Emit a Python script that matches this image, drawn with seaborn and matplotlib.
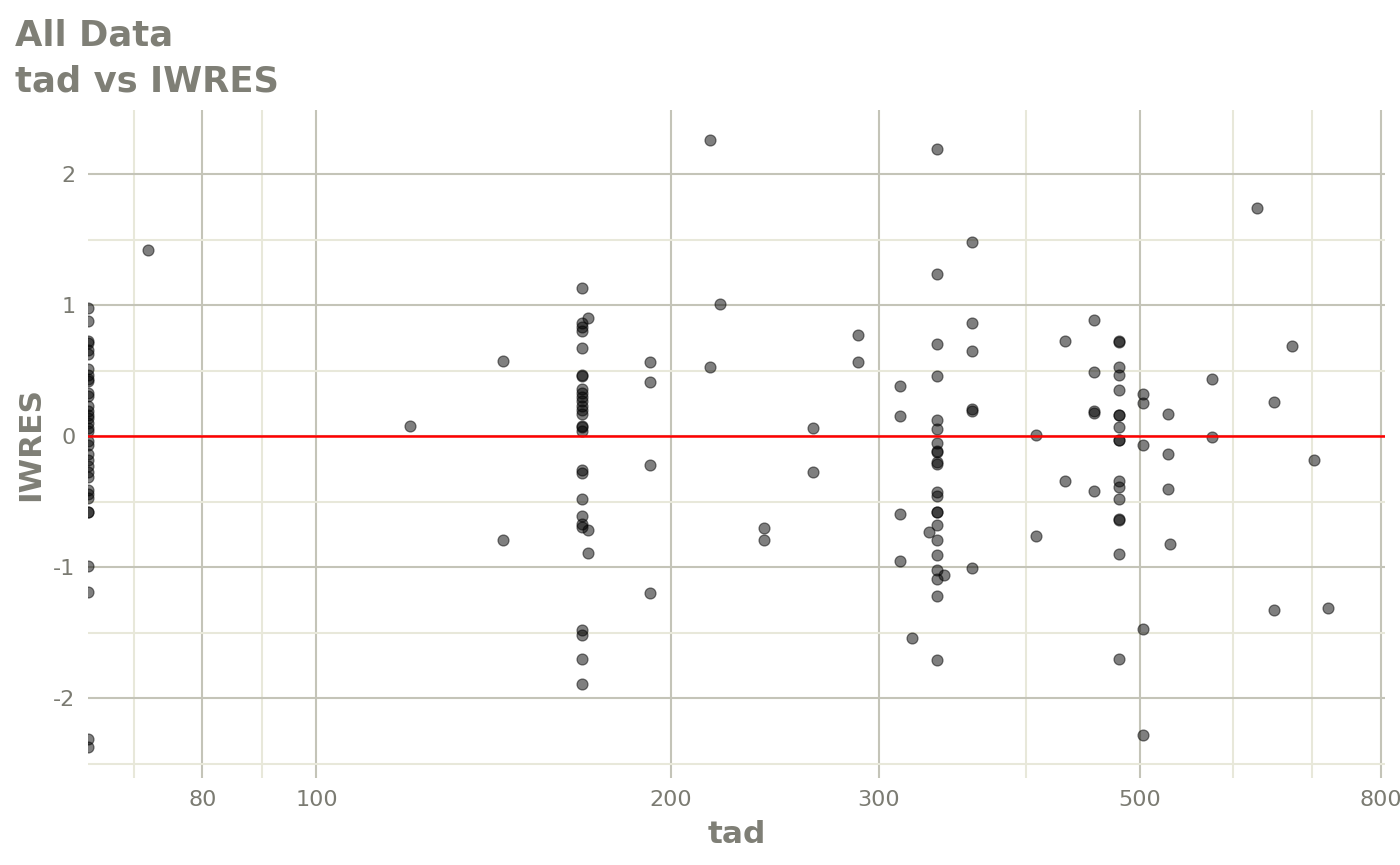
import matplotlib
matplotlib.use("Agg")
import matplotlib.pyplot as plt
import matplotlib.ticker as mticker
import seaborn as sns
import pandas as pd

# ---------------- data ----------------
tad_left = [64] * 35
iwres_left = [0.98, 0.88, 0.73, 0.71, 0.66, 0.63, 0.51, 0.47, 0.44, 0.42,
              0.33, 0.31, 0.23, 0.19, 0.16, 0.14, 0.10, 0.06, 0.04, -0.04,
              -0.07, -0.14, -0.18, -0.23, -0.27, -0.31, -0.41, -0.44, -0.47,
              -0.58, -0.58, -0.99, -1.19, -2.31, -2.37]

tad_168 = [168] * 27
iwres_168 = [1.13, 0.86, 0.83, 0.80, 0.67, 0.47, 0.46, 0.36, 0.33, 0.30,
             0.27, 0.23, 0.20, 0.17, 0.08, 0.07, 0.04, -0.26, -0.28, -0.48,
             -0.61, -0.67, -0.69, -1.48, -1.52, -1.70, -1.89]

tad_336 = [336] * 22
iwres_336 = [2.19, 1.24, 0.70, 0.46, 0.12, 0.055, -0.05, -0.11, -0.12,
             -0.20, -0.21, -0.43, -0.46, -0.58, -0.58, -0.68, -0.79, -0.91,
             -1.02, -1.09, -1.22, -1.71]

tad_480 = [480] * 17
iwres_480 = [0.73, 0.72, 0.53, 0.47, 0.35, 0.16, 0.16, 0.07, -0.03, -0.03,
             -0.34, -0.39, -0.48, -0.64, -0.63, -0.90, -1.70]

tad_other = [72, 120, 144, 144, 170, 170, 170, 192, 192, 192, 192, 216, 216,
             220, 240, 240, 264, 264, 288, 288, 313, 313, 313, 313, 320, 331,
             341, 360, 360, 360, 360, 360, 360, 408, 408, 432, 432, 457, 457,
             457, 457, 457, 503, 503, 503, 503, 503, 528, 528, 528, 530, 576,
             576, 628, 650, 650, 673, 702, 722]
iwres_other = [1.42, 0.076, 0.57, -0.79, 0.90, -0.72, -0.89, 0.565, 0.41,
               -0.22, -1.20, 2.26, 0.527, 1.01, -0.70, -0.79, 0.06, -0.27,
               0.77, 0.565, 0.385, 0.153, -0.596, -0.955, -1.54, -0.73, -1.06,
               1.48, 0.86, 0.65, 0.206, 0.19, -1.01, 0.008, -0.76, 0.725,
               -0.34, 0.89, 0.49, 0.19, 0.18, -0.42, 0.32, 0.255, -0.07,
               -1.47, -2.28, 0.17, -0.14, -0.40, -0.82, 0.44, -0.01, 1.74,
               0.26, -1.33, 0.69, -0.18, -1.31]

tad = tad_left + tad_168 + tad_336 + tad_480 + tad_other
iwres = iwres_left + iwres_168 + iwres_336 + iwres_480 + iwres_other

x_major = [80, 100, 200, 300, 500, 800]
x_minor = [70, 90, 400, 600, 700]
y_major = [-2, -1, 0, 1, 2]
y_minor = [-2.5, -1.5, -0.5, 0.5, 1.5]

df = pd.DataFrame({"tad": tad, "IWRES": iwres})

# ---------------- style ----------------
sns.set_style("white")
plt.rcParams["font.family"] = ["DejaVu Sans"]
plt.rcParams["axes.unicode_minus"] = False

title_col = "#7f7f76"
tick_col = "#7b7b72"
major_grid = "#c4c4b8"
minor_grid = "#e8e8da"

fig = plt.figure(figsize=(14, 8.65), dpi=100)
ax = fig.add_axes([88 / 1400, 1 - 778 / 865, (1385 - 88) / 1400, (778 - 110) / 865])

ax.set_xscale("log")
ax.set_xlim(64, 807)
ax.set_ylim(-2.61, 2.49)

ax.xaxis.set_major_locator(mticker.FixedLocator(x_major))
ax.xaxis.set_major_formatter(mticker.FixedFormatter([str(v) for v in x_major]))
ax.xaxis.set_minor_locator(mticker.FixedLocator(x_minor))
ax.xaxis.set_minor_formatter(mticker.NullFormatter())
ax.yaxis.set_major_locator(mticker.FixedLocator(y_major))
ax.yaxis.set_major_formatter(mticker.FixedFormatter([str(v) for v in y_major]))
ax.yaxis.set_minor_locator(mticker.FixedLocator(y_minor))
ax.yaxis.set_minor_formatter(mticker.NullFormatter())

ax.grid(which="major", color=major_grid, linewidth=1.5, zorder=0)
ax.grid(which="minor", color=minor_grid, linewidth=1.5, zorder=0)
ax.set_axisbelow(True)

for s in ax.spines.values():
    s.set_visible(False)

ax.tick_params(which="major", length=5, width=1.5, color="#808078",
               labelsize=16, labelcolor=tick_col, pad=4)
ax.tick_params(which="minor", length=0)

sns.scatterplot(data=df, x="tad", y="IWRES", ax=ax, color="black",
                alpha=0.5, s=62, edgecolor="black", linewidth=0.9, zorder=3,
                clip_on=True)
ax.axhline(0, color="red", linewidth=1.8, zorder=4)

ax.set_xlabel("tad", fontsize=22.5, fontweight="bold", color=title_col)
ax.set_ylabel("IWRES", fontsize=22.5, fontweight="bold", color=title_col)
ax.xaxis.set_label_coords(0.5, -0.063)
ax.yaxis.set_label_coords(-0.033, 0.5)

fig.text(15 / 1400, 1 - 45 / 865, "All Data", fontsize=25.5, fontweight="bold",
         color=title_col, ha="left", va="baseline")
fig.text(15 / 1400, 1 - 92 / 865, "tad vs IWRES", fontsize=25.5, fontweight="bold",
         color=title_col, ha="left", va="baseline")

fig.savefig("out.png", dpi=100)
